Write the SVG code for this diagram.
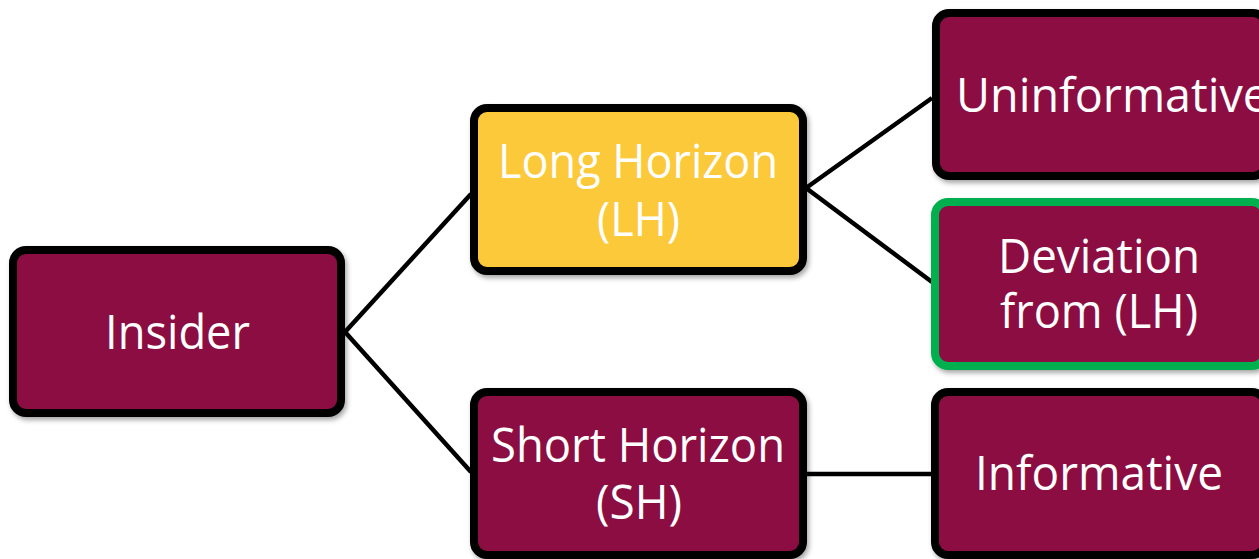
<svg xmlns="http://www.w3.org/2000/svg" width="1259" height="559" viewBox="0 0 1259 559">
  <defs>
    <filter id="shadow" x="-10%" y="-10%" width="125%" height="130%">
      <feDropShadow dx="2" dy="3" stdDeviation="2.5" flood-color="#000" flood-opacity="0.35"/>
    </filter>
    <style>
      .box { fill: #8B0D42; stroke: #000; stroke-width: 8; filter: url(#shadow); }
      .box.lh { fill: #FCC93A; }
      .box.dev { stroke: #00B050; }
      .label { font-family: "Open Sans", "Noto Sans", sans-serif; font-size: 48px; fill: #fff; text-anchor: middle; }
      .link { stroke: #000; stroke-width: 4.5; fill: none; }
    </style>
  </defs>
  <rect width="1259" height="559" fill="#fff"/>

  <!-- connectors -->
  <g id="connectors">
    <line class="link" x1="345" y1="332" x2="471" y2="194"/>
    <line class="link" x1="345" y1="332" x2="471" y2="472"/>
    <line class="link" x1="806" y1="188" x2="932" y2="98"/>
    <line class="link" x1="806" y1="188" x2="932" y2="282"/>
    <line class="link" x1="806" y1="474" x2="932" y2="474"/>
  </g>

  <g id="insider">
    <rect class="box" x="13" y="250" width="328" height="163" rx="13"/>
    <text class="label" x="177.5" y="349" textLength="145" lengthAdjust="spacingAndGlyphs">Insider</text>
  </g>

  <g id="long-horizon">
    <rect class="box lh" x="474" y="108" width="329" height="163" rx="13"/>
    <text class="label" x="638" y="178" textLength="280" lengthAdjust="spacingAndGlyphs">Long Horizon</text>
    <text class="label" x="638.5" y="236" textLength="83" lengthAdjust="spacingAndGlyphs">(LH)</text>
  </g>

  <g id="short-horizon">
    <rect class="box" x="474" y="392" width="329" height="163" rx="13"/>
    <text class="label" x="638" y="462" textLength="294" lengthAdjust="spacingAndGlyphs">Short Horizon</text>
    <text class="label" x="639" y="519" textLength="86" lengthAdjust="spacingAndGlyphs">(SH)</text>
  </g>

  <g id="uninformative">
    <rect class="box" x="936" y="13" width="330" height="163" rx="13"/>
    <text class="label" x="956" y="112" text-anchor="start" style="text-anchor:start" textLength="313" lengthAdjust="spacingAndGlyphs">Uninformative</text>
  </g>

  <g id="deviation">
    <rect class="box dev" x="935" y="202" width="330" height="164" rx="13"/>
    <text class="label" x="1099" y="273" textLength="202" lengthAdjust="spacingAndGlyphs">Deviation</text>
    <text class="label" x="1099" y="328" textLength="198" lengthAdjust="spacingAndGlyphs">from (LH)</text>
  </g>

  <g id="informative">
    <rect class="box" x="935" y="392" width="330" height="163" rx="13"/>
    <text class="label" x="1099" y="490" textLength="248" lengthAdjust="spacingAndGlyphs">Informative</text>
  </g>
</svg>
